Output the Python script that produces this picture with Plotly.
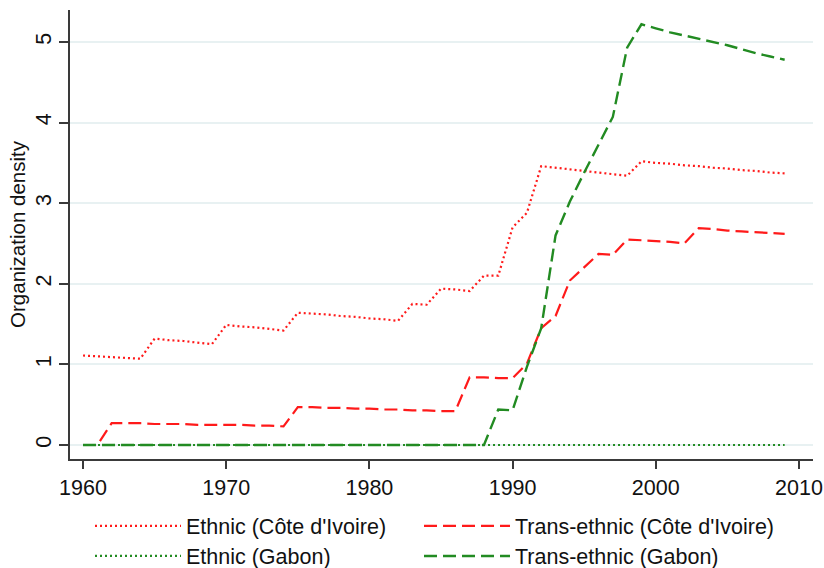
import plotly.graph_objects as go

years = list(range(1960, 2010))

ethnic_ci = [1.11, 1.10, 1.09, 1.08, 1.07,
             1.32, 1.30, 1.29, 1.27, 1.25,
             1.49, 1.47, 1.46, 1.44, 1.42,
             1.64, 1.63, 1.62, 1.60, 1.59, 1.57, 1.56, 1.54,
             1.75, 1.74,
             1.94, 1.93, 1.91,
             2.10, 2.10,
             2.70, 2.88,
             3.46, 3.44, 3.42, 3.40, 3.38, 3.36, 3.34,
             3.52, 3.50, 3.49, 3.47, 3.46, 3.44, 3.43, 3.41, 3.40, 3.38, 3.37]

trans_ci = [0.00, 0.00, 0.27, 0.27, 0.27, 0.26, 0.26, 0.26, 0.25, 0.25,
            0.25, 0.25, 0.24, 0.24, 0.23,
            0.47, 0.47, 0.46, 0.46, 0.45, 0.45, 0.44, 0.44, 0.43, 0.43, 0.42, 0.42,
            0.84, 0.84, 0.83, 0.83,
            1.01, 1.45, 1.60, 2.04, 2.20, 2.37, 2.36,
            2.55, 2.54, 2.53, 2.52, 2.50,
            2.69, 2.68, 2.66, 2.65, 2.64, 2.63, 2.62]

ethnic_gabon = [0.0] * 50

trans_gabon = [0.0] * 29 + [
    0.44, 0.43, 0.97, 1.45, 2.60, 3.02, 3.38, 3.73, 4.07, 4.93,
    5.22, 5.17, 5.12, 5.08, 5.04, 5.00, 4.96, 4.91, 4.86, 4.82, 4.78]

names = ["Ethnic (Côte d'Ivoire)", "Trans-ethnic (Côte d'Ivoire)",
         "Ethnic (Gabon)", "Trans-ethnic (Gabon)"]

x_ticks = [1960, 1970, 1980, 1990, 2000, 2010]
y_ticks = [0, 1, 2, 3, 4, 5]

RED = "#FF1A1A"
GREEN = "#228B22"
DOT = "2px,3px"
DASH = "13px,6px"

fig = go.Figure()
fig.add_trace(go.Scatter(x=years, y=ethnic_ci, mode="lines", name=names[0],
                         line=dict(color=RED, width=2.2, dash=DOT), legend="legend"))
fig.add_trace(go.Scatter(x=years, y=trans_ci, mode="lines", name=names[1],
                         line=dict(color=RED, width=2.2, dash=DASH), legend="legend2"))
fig.add_trace(go.Scatter(x=years, y=ethnic_gabon, mode="lines", name=names[2],
                         line=dict(color=GREEN, width=2.2, dash=DOT), legend="legend3"))
fig.add_trace(go.Scatter(x=years, y=trans_gabon, mode="lines", name=names[3],
                         line=dict(color=GREEN, width=2.4, dash=DASH), legend="legend4"))

font_family = "Liberation Sans, Arial, sans-serif"
legend_common = dict(orientation="h", xanchor="left", yanchor="middle",
                     itemwidth=86, font=dict(size=21.5, color="#111111", family=font_family),
                     bgcolor="rgba(0,0,0,0)")

COL1, COL2 = 0.0269, 0.4697
ROW1, ROW2 = -0.149, -0.216

fig.update_layout(
    width=824, height=568,
    margin=dict(l=70, r=11, t=10, b=109, autoexpand=False),
    paper_bgcolor="white", plot_bgcolor="white",
    font=dict(family=font_family, color="#111111"),
    showlegend=True,
    legend=dict(**legend_common, x=COL1, y=ROW1),
    legend2=dict(**legend_common, x=COL2, y=ROW1),
    legend3=dict(**legend_common, x=COL1, y=ROW2),
    legend4=dict(**legend_common, x=COL2, y=ROW2),
    xaxis=dict(range=[1959.09, 2010.98], tickvals=x_ticks,
               showgrid=False, zeroline=False,
               showline=True, linecolor="#3a3a3a", linewidth=1.8,
               ticks="outside", ticklen=8, tickwidth=1.8, tickcolor="#3a3a3a",
               tickfont=dict(size=21.5, color="#111111")),
    yaxis=dict(range=[-0.174, 5.397], tickvals=y_ticks,
               showgrid=True, gridcolor="#E8F1F2", gridwidth=2,
               zeroline=False,
               showline=True, linecolor="#3a3a3a", linewidth=1.8,
               ticks="outside", ticklen=9, tickwidth=1.8, tickcolor="#3a3a3a",
               tickangle=-90,
               tickfont=dict(size=21.5, color="#111111"),
               title=dict(text="Organization density", font=dict(size=20.5, color="#111111"),
                          standoff=0)),
)

fig.write_html("out.html")
